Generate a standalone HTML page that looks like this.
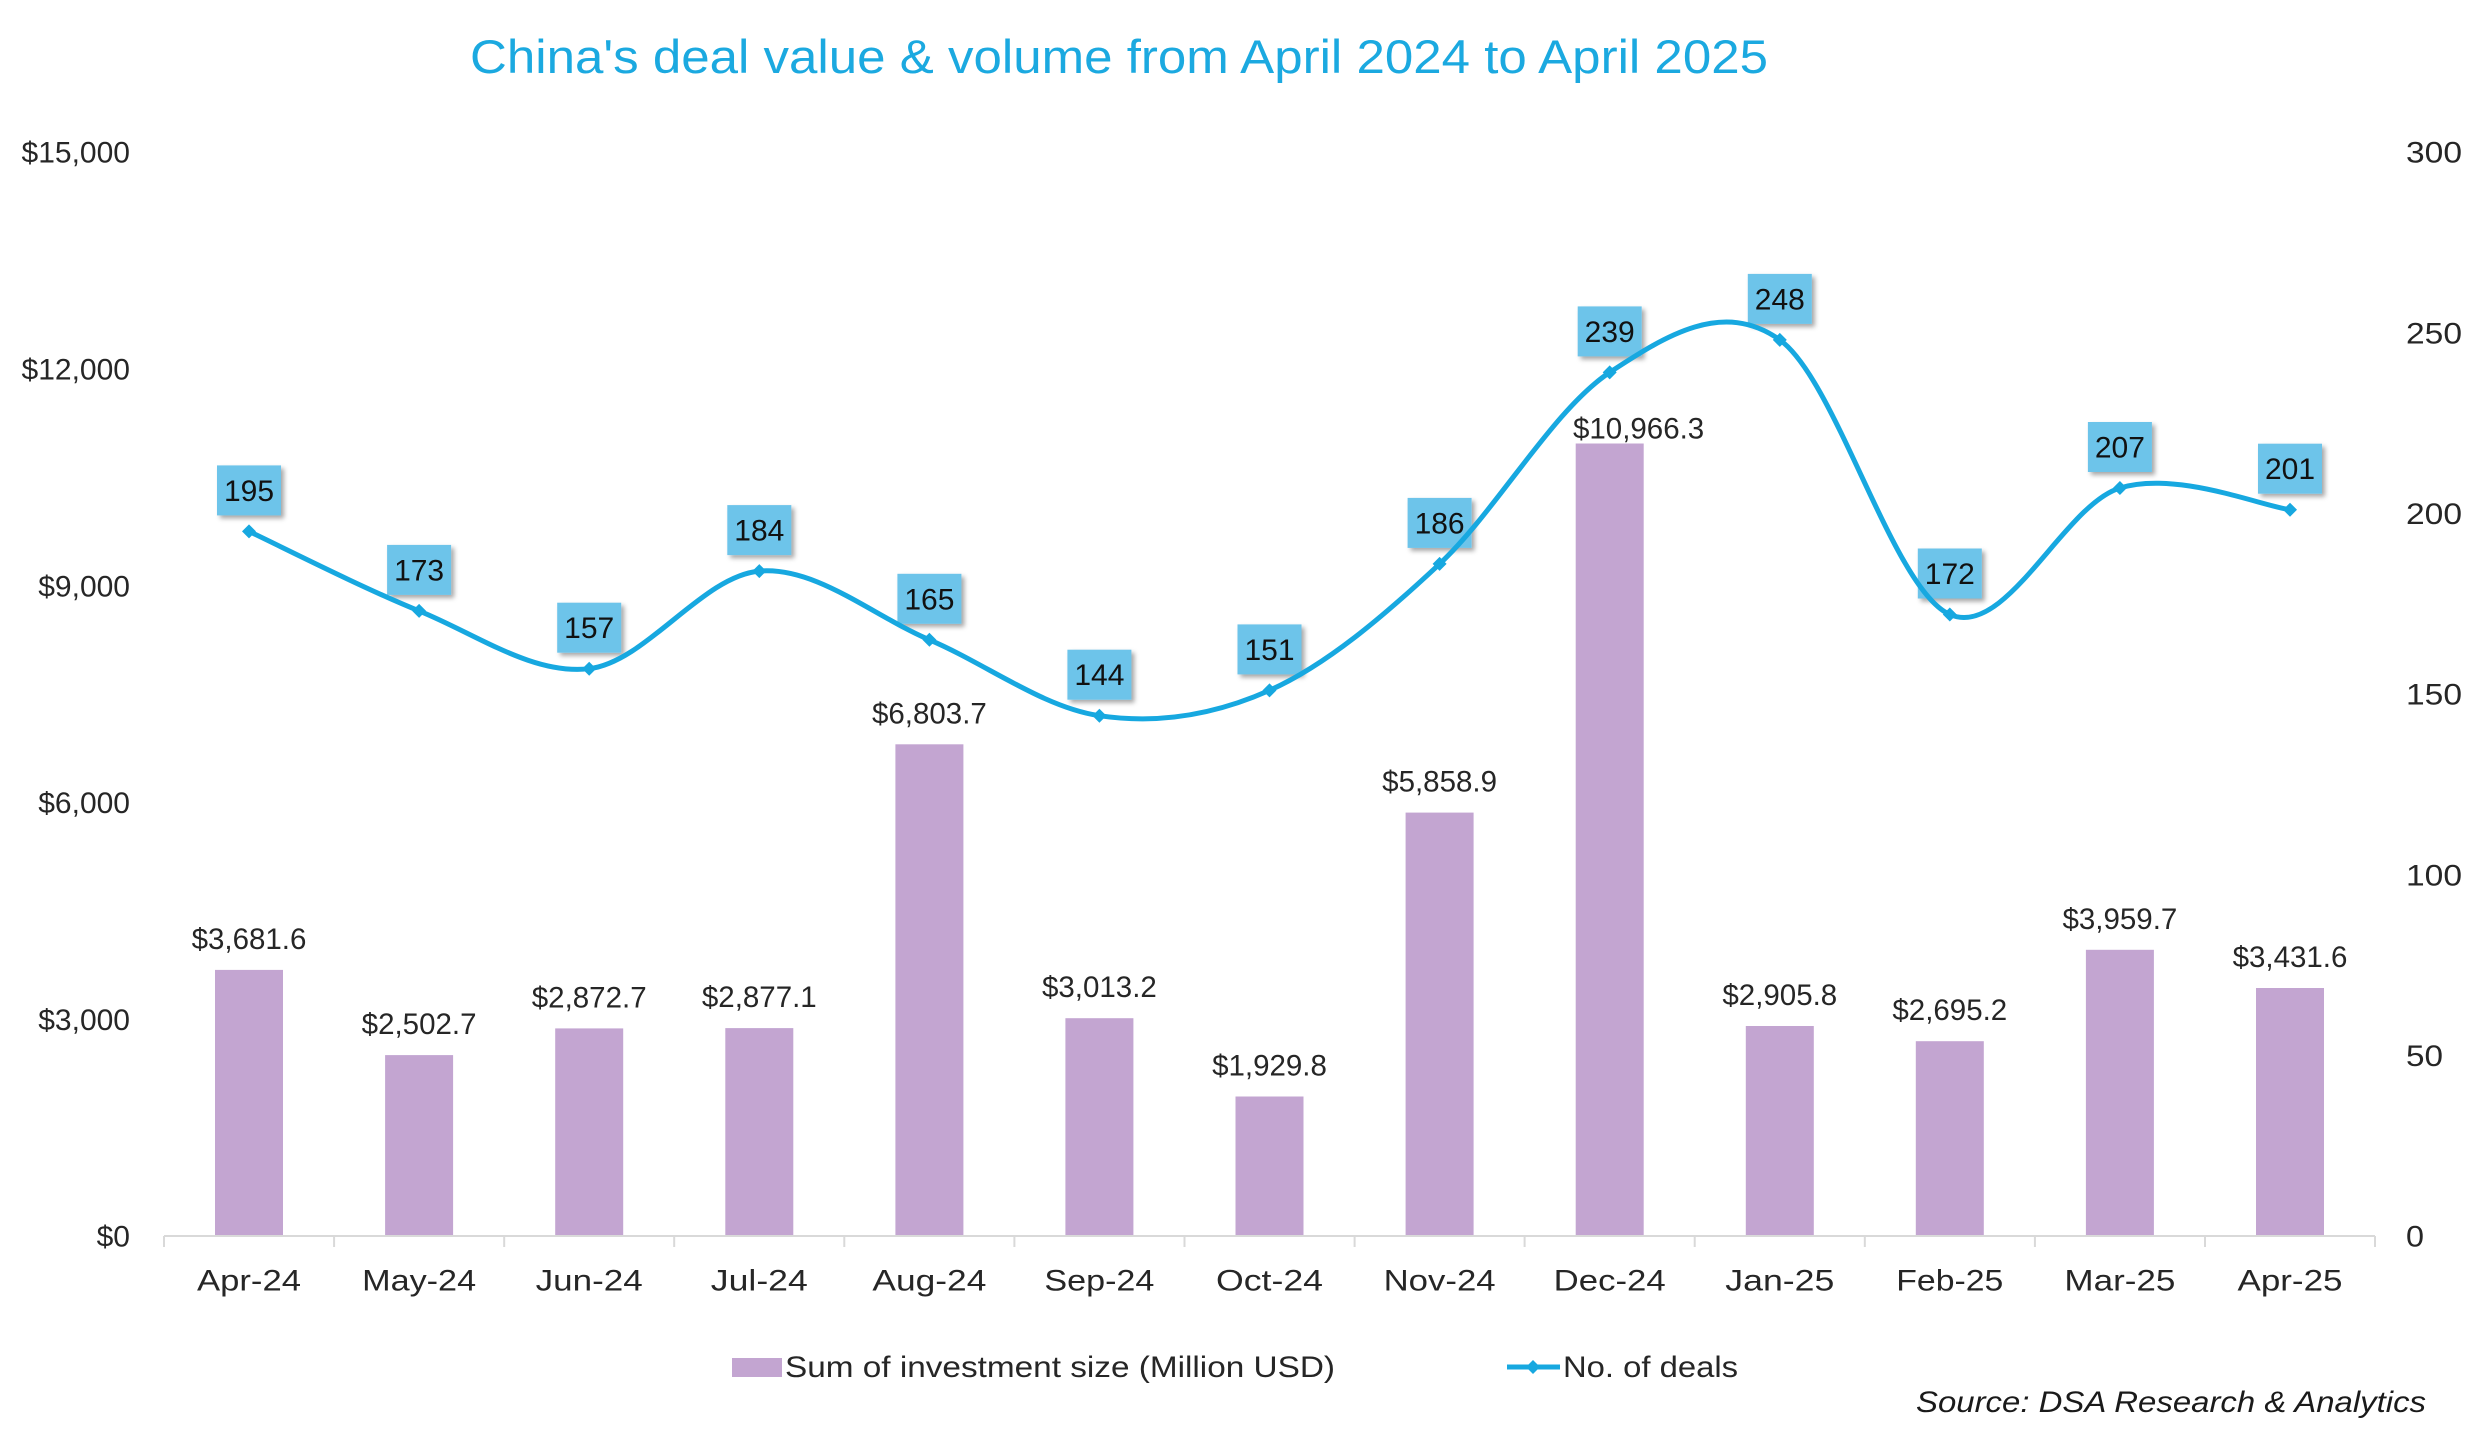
<!DOCTYPE html>
<html>
<head>
<meta charset="utf-8">
<style>
  html,body{margin:0;padding:0;background:#fff;}
  svg{display:block;}
  text{font-family:"Liberation Sans", sans-serif;}
</style>
</head>
<body>
<svg width="2478" height="1450" viewBox="0 0 2478 1450" xmlns="http://www.w3.org/2000/svg">
  <defs>
    <filter id="sh" x="-20%" y="-20%" width="150%" height="150%">
      <feDropShadow dx="3" dy="3" stdDeviation="2.5" flood-color="#000" flood-opacity="0.35"/>
    </filter>
  </defs>
  <rect x="0" y="0" width="2478" height="1450" fill="#ffffff"/>

  <!-- Title -->
  <text x="470" y="73" font-size="47" fill="#1BA9E0" textLength="1298" lengthAdjust="spacingAndGlyphs">China's deal value &amp; volume from April 2024 to April 2025</text>

  <!-- Left axis labels -->
  <g font-size="30" fill="#262626" text-anchor="end">
    <text x="130" y="162.7">$15,000</text>
    <text x="130" y="379.5">$12,000</text>
    <text x="130" y="596.3">$9,000</text>
    <text x="130" y="813.1">$6,000</text>
    <text x="130" y="1029.9">$3,000</text>
    <text x="130" y="1246.7">$0</text>
  </g>

  <!-- Right axis labels -->
  <g font-size="30" fill="#262626" lengthAdjust="spacingAndGlyphs">
    <text x="2406" y="162.7" textLength="56" lengthAdjust="spacingAndGlyphs">300</text>
    <text x="2406" y="343.4" textLength="56" lengthAdjust="spacingAndGlyphs">250</text>
    <text x="2406" y="524.0" textLength="56" lengthAdjust="spacingAndGlyphs">200</text>
    <text x="2406" y="704.7" textLength="56" lengthAdjust="spacingAndGlyphs">150</text>
    <text x="2406" y="885.4" textLength="56" lengthAdjust="spacingAndGlyphs">100</text>
    <text x="2406" y="1066.0" textLength="37" lengthAdjust="spacingAndGlyphs">50</text>
    <text x="2406" y="1246.7" textLength="18" lengthAdjust="spacingAndGlyphs">0</text>
  </g>

  <!-- Bars -->
  <g fill="#C3A5D1">
    <rect x="215.0" y="969.9" width="68" height="266.1"/>
    <rect x="385.1" y="1055.1" width="68" height="180.9"/>
    <rect x="555.2" y="1028.4" width="68" height="207.6"/>
    <rect x="725.3" y="1028.1" width="68" height="207.9"/>
    <rect x="895.4" y="744.3" width="68" height="491.7"/>
    <rect x="1065.4" y="1018.2" width="68" height="217.8"/>
    <rect x="1235.5" y="1096.5" width="68" height="139.5"/>
    <rect x="1405.6" y="812.6" width="68" height="423.4"/>
    <rect x="1575.7" y="443.5" width="68" height="792.5"/>
    <rect x="1745.8" y="1026.0" width="68" height="210.0"/>
    <rect x="1915.8" y="1041.2" width="68" height="194.8"/>
    <rect x="2085.9" y="949.8" width="68" height="286.2"/>
    <rect x="2256.0" y="988.0" width="68" height="248.0"/>
  </g>

  <!-- X axis line and ticks -->
  <g stroke="#D9D9D9" stroke-width="2" fill="none">
    <line x1="164" y1="1236" x2="2375" y2="1236"/>
    <line x1="164.0" y1="1236" x2="164.0" y2="1247"/>
    <line x1="334.1" y1="1236" x2="334.1" y2="1247"/>
    <line x1="504.2" y1="1236" x2="504.2" y2="1247"/>
    <line x1="674.2" y1="1236" x2="674.2" y2="1247"/>
    <line x1="844.3" y1="1236" x2="844.3" y2="1247"/>
    <line x1="1014.4" y1="1236" x2="1014.4" y2="1247"/>
    <line x1="1184.5" y1="1236" x2="1184.5" y2="1247"/>
    <line x1="1354.6" y1="1236" x2="1354.6" y2="1247"/>
    <line x1="1524.6" y1="1236" x2="1524.6" y2="1247"/>
    <line x1="1694.7" y1="1236" x2="1694.7" y2="1247"/>
    <line x1="1864.8" y1="1236" x2="1864.8" y2="1247"/>
    <line x1="2034.9" y1="1236" x2="2034.9" y2="1247"/>
    <line x1="2205.0" y1="1236" x2="2205.0" y2="1247"/>
    <line x1="2375.0" y1="1236" x2="2375.0" y2="1247"/>
  </g>

  <!-- X labels -->
  <g font-size="30" fill="#262626" text-anchor="middle">
    <text x="249.0" y="1290.7" textLength="104" lengthAdjust="spacingAndGlyphs">Apr-24</text>
    <text x="419.1" y="1290.7" textLength="114" lengthAdjust="spacingAndGlyphs">May-24</text>
    <text x="589.2" y="1290.7" textLength="107" lengthAdjust="spacingAndGlyphs">Jun-24</text>
    <text x="759.3" y="1290.7" textLength="97" lengthAdjust="spacingAndGlyphs">Jul-24</text>
    <text x="929.4" y="1290.7" textLength="114" lengthAdjust="spacingAndGlyphs">Aug-24</text>
    <text x="1099.4" y="1290.7" textLength="110" lengthAdjust="spacingAndGlyphs">Sep-24</text>
    <text x="1269.5" y="1290.7" textLength="107" lengthAdjust="spacingAndGlyphs">Oct-24</text>
    <text x="1439.6" y="1290.7" textLength="112" lengthAdjust="spacingAndGlyphs">Nov-24</text>
    <text x="1609.7" y="1290.7" textLength="112" lengthAdjust="spacingAndGlyphs">Dec-24</text>
    <text x="1779.8" y="1290.7" textLength="109" lengthAdjust="spacingAndGlyphs">Jan-25</text>
    <text x="1949.8" y="1290.7" textLength="107" lengthAdjust="spacingAndGlyphs">Feb-25</text>
    <text x="2119.9" y="1290.7" textLength="111" lengthAdjust="spacingAndGlyphs">Mar-25</text>
    <text x="2290.0" y="1290.7" textLength="105" lengthAdjust="spacingAndGlyphs">Apr-25</text>
  </g>

  <!-- Bar value labels -->
  <g font-size="29.5" fill="#262626" text-anchor="middle">
    <text x="249.0" y="948.9">$3,681.6</text>
    <text x="419.1" y="1034.1">$2,502.7</text>
    <text x="589.2" y="1007.4">$2,872.7</text>
    <text x="759.3" y="1007.1">$2,877.1</text>
    <text x="929.4" y="723.3">$6,803.7</text>
    <text x="1099.4" y="997.2">$3,013.2</text>
    <text x="1269.5" y="1075.5">$1,929.8</text>
    <text x="1439.6" y="791.6">$5,858.9</text>
    <text x="1638.6" y="438.3">$10,966.3</text>
    <text x="1779.8" y="1005.0">$2,905.8</text>
    <text x="1949.8" y="1020.2">$2,695.2</text>
    <text x="2119.9" y="928.8">$3,959.7</text>
    <text x="2290.0" y="967.0">$3,431.6</text>
  </g>

  <!-- Line label boxes -->
  <g fill="#6DC4EA" filter="url(#sh)">
    <rect x="217.0" y="465.4" width="64" height="50"/>
    <rect x="387.1" y="544.9" width="64" height="50"/>
    <rect x="557.2" y="602.7" width="64" height="50"/>
    <rect x="727.3" y="505.1" width="64" height="50"/>
    <rect x="897.4" y="573.8" width="64" height="50"/>
    <rect x="1067.4" y="649.7" width="64" height="50"/>
    <rect x="1237.5" y="624.4" width="64" height="50"/>
    <rect x="1407.6" y="497.9" width="64" height="50"/>
    <rect x="1577.7" y="306.4" width="64" height="50"/>
    <rect x="1747.8" y="273.9" width="64" height="50"/>
    <rect x="1917.8" y="548.5" width="64" height="50"/>
    <rect x="2087.9" y="422.0" width="64" height="50"/>
    <rect x="2258.0" y="443.7" width="64" height="50"/>
  </g>

  <!-- Smoothed line -->
  <path d="M249.0,531.4 C277.35,544.65 362.4,588.02 419.1,610.9
           C475.8,633.78 532.5,675.33 589.2,668.7
           C645.9,662.07 702.6,575.92 759.3,571.1
           C816.0,566.28 872.72,615.7 929.4,639.8
           C986.08,663.9 1042.72,707.27 1099.4,715.7
           C1156.08,724.13 1212.8,715.7 1269.5,690.4
           C1326.2,665.1 1382.9,616.9 1439.6,563.9
           C1496.3,510.9 1553.0,409.73 1609.7,372.4
           C1666.4,335.07 1723.12,299.55 1779.8,339.9
           C1836.48,380.25 1893.12,589.82 1949.8,614.5
           C2006.48,639.18 2063.2,505.47 2119.9,488.0
           C2176.6,470.53 2261.65,506.08 2290.0,509.7"
        fill="none" stroke="#17A8E0" stroke-width="5" stroke-linecap="round" stroke-linejoin="round"/>

  <!-- Markers -->
  <g fill="#17A8E0">
    <polygon points="249.0,524.4 256.0,531.4 249.0,538.4 242.0,531.4"/>
    <polygon points="419.1,603.9 426.1,610.9 419.1,617.9 412.1,610.9"/>
    <polygon points="589.2,661.7 596.2,668.7 589.2,675.7 582.2,668.7"/>
    <polygon points="759.3,564.1 766.3,571.1 759.3,578.1 752.3,571.1"/>
    <polygon points="929.4,632.8 936.4,639.8 929.4,646.8 922.4,639.8"/>
    <polygon points="1099.4,708.7 1106.4,715.7 1099.4,722.7 1092.4,715.7"/>
    <polygon points="1269.5,683.4 1276.5,690.4 1269.5,697.4 1262.5,690.4"/>
    <polygon points="1439.6,556.9 1446.6,563.9 1439.6,570.9 1432.6,563.9"/>
    <polygon points="1609.7,365.4 1616.7,372.4 1609.7,379.4 1602.7,372.4"/>
    <polygon points="1779.8,332.9 1786.8,339.9 1779.8,346.9 1772.8,339.9"/>
    <polygon points="1949.8,607.5 1956.8,614.5 1949.8,621.5 1942.8,614.5"/>
    <polygon points="2119.9,481.0 2126.9,488.0 2119.9,495.0 2112.9,488.0"/>
    <polygon points="2290.0,502.7 2297.0,509.7 2290.0,516.7 2283.0,509.7"/>
  </g>

  <!-- Line label texts -->
  <g font-size="30" fill="#111" text-anchor="middle">
    <text x="249.0" y="500.9">195</text>
    <text x="419.1" y="580.4">173</text>
    <text x="589.2" y="638.2">157</text>
    <text x="759.3" y="540.6">184</text>
    <text x="929.4" y="609.3">165</text>
    <text x="1099.4" y="685.2">144</text>
    <text x="1269.5" y="659.9">151</text>
    <text x="1439.6" y="533.4">186</text>
    <text x="1609.7" y="341.9">239</text>
    <text x="1779.8" y="309.4">248</text>
    <text x="1949.8" y="584.0">172</text>
    <text x="2119.9" y="457.5">207</text>
    <text x="2290.0" y="479.2">201</text>
  </g>

  <!-- Legend -->
  <rect x="732" y="1358" width="50" height="19" fill="#C3A5D1"/>
  <text x="785" y="1377" font-size="30" fill="#262626" textLength="550" lengthAdjust="spacingAndGlyphs">Sum of investment size (Million USD)</text>
  <line x1="1507" y1="1367" x2="1560" y2="1367" stroke="#17A8E0" stroke-width="5"/>
  <polygon points="1533,1360 1540,1367 1533,1374 1526,1367" fill="#17A8E0"/>
  <text x="1563" y="1377" font-size="30" fill="#262626" textLength="175" lengthAdjust="spacingAndGlyphs">No. of deals</text>

  <!-- Source -->
  <text x="1916" y="1412" font-size="30" font-style="italic" fill="#1a1a1a" textLength="510" lengthAdjust="spacingAndGlyphs">Source: DSA Research &amp; Analytics</text>
</svg>
</body>
</html>
